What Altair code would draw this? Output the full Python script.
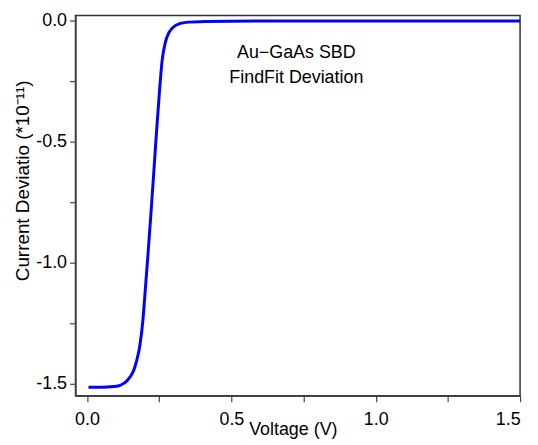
import altair as alt
import pandas as pd

voltage = [0.005, 0.05, 0.093, 0.115, 0.127, 0.140, 0.149, 0.158, 0.166, 0.175, 0.183,
           0.194, 0.200, 0.209, 0.220, 0.231, 0.240, 0.251, 0.260, 0.271, 0.285, 0.308,
           0.342, 0.41, 0.6, 1.0, 1.5]
deviation = [-1.515, -1.515, -1.512, -1.507, -1.499, -1.486, -1.472, -1.455, -1.43, -1.39, -1.342,
             -1.232, -1.14, -1.00, -0.82, -0.63, -0.47, -0.29, -0.165, -0.09, -0.045, -0.018,
             -0.006, -0.002, 0.0, 0.0, 0.0]

x_ticks = [0.0, 0.25, 0.5, 0.75, 1.0, 1.25, 1.5]
y_ticks = [-1.5, -1.25, -1.0, -0.75, -0.5, -0.25, 0.0]

note_lines = ["Au\u2212GaAs SBD", "FindFit Deviation"]
note_x = [0.725, 0.725]
note_y = [-0.134, -0.236]

df = pd.DataFrame({"V": voltage, "I": deviation})
notes = pd.DataFrame({"t": note_lines, "x": note_x, "y": note_y})

FONT = "Liberation Sans"
label_expr = ("abs(datum.value*2 - round(datum.value*2)) < 1e-6 ? "
              "replace(format(datum.value, '.1f'), '\u2212', '-') : ''")

xscale = alt.Scale(domain=[-0.04, 1.5], nice=False, zero=False)
yscale = alt.Scale(domain=[-1.55, 0.022], nice=False, zero=False)

line = alt.Chart(df).mark_line(color="#0000ff", strokeWidth=3, interpolate="monotone").encode(
    x=alt.X("V:Q", scale=xscale,
            axis=alt.Axis(title="Voltage (V)", values=x_ticks, labelExpr=label_expr,
                          grid=False, tickSize=6, labelPadding=9, titlePadding=-8,
                          labelFontSize=18, titleFontSize=18, labelFont=FONT, titleFont=FONT,
                          labelColor="black", titleColor="black", titleFontWeight="normal",
                          domainColor="#444", tickColor="#444", domainWidth=1.5, tickWidth=1.2,
                          titleX=219)),
    y=alt.Y("I:Q", scale=yscale,
            axis=alt.Axis(title="Current Deviatio (*10\u207b\u00b9\u00b9)", values=y_ticks,
                          labelExpr=label_expr,
                          grid=False, tickSize=6, labelPadding=3,
                          labelFontSize=18, titleFontSize=19, labelFont=FONT, titleFont=FONT,
                          labelColor="black", titleColor="black", titleFontWeight="normal",
                          domainColor="#444", tickColor="#444", domainWidth=1.5, tickWidth=1.2,
                          titleX=-43, titleY=166)),
)

text = alt.Chart(notes).mark_text(font=FONT, fontSize=18, color="black", align="center",
                                  baseline="middle").encode(
    x=alt.X("x:Q", scale=xscale),
    y=alt.Y("y:Q", scale=yscale),
    text="t:N",
)

chart = alt.layer(line, text).properties(
    width=448, height=383,
    autosize=alt.AutoSizeParams(type="none"),
    padding={"left": 68, "top": 6, "right": 10, "bottom": 46},
).configure_view(stroke="#333", strokeWidth=1.5)

chart.save("out.html", embed_options={"renderer": "svg", "actions": False})
